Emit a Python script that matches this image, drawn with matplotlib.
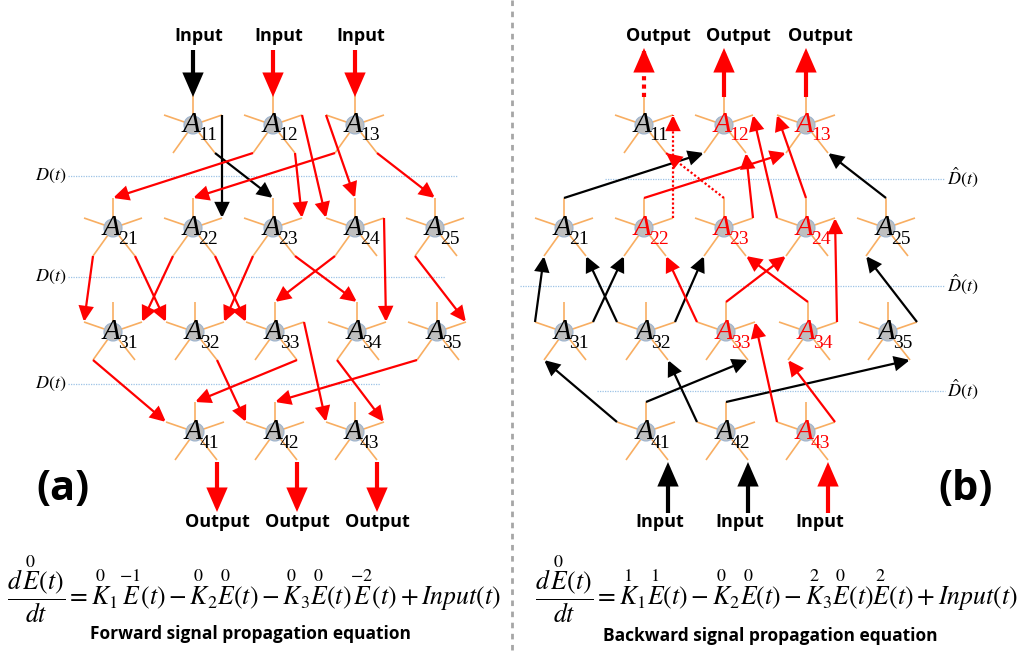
import matplotlib
matplotlib.use("Agg")
import matplotlib.pyplot as plt
from matplotlib.patches import Circle, FancyArrowPatch

plt.rcParams['mathtext.fontset'] = 'stix'
plt.rcParams['font.family'] = ['Open Sans', 'DejaVu Sans']

# ---- layout of the two networks (pixel grid) ----
ROW_Y = [125, 228, 332, 432]
ROW_X = [[193, 273, 355],
         [113, 193, 273, 355, 435],
         [113, 195, 275, 357, 437],
         [195, 275, 355]]
RIGHT_SHIFT = 451

# nodes drawn in red on the backward (right) panel
RED_RIGHT = ["12", "13", "22", "23", "24", "33", "34", "43"]

# forward links: (from row, col, port) -> (to row, col, port), colour
FWD_LINKS = [
    ((1, 1, 'RU'), (2, 2, 'RU'), 'k'),
    ((1, 1, 'RD'), (2, 3, 'U'), 'k'),
    ((1, 2, 'LD'), (2, 1, 'U'), 'r'),
    ((1, 3, 'LD'), (2, 2, 'U'), 'r'),
    ((1, 2, 'RD'), (2, 3, 'RU'), 'r'),
    ((1, 2, 'RU'), (2, 4, 'LU'), 'r'),
    ((1, 3, 'LU'), (2, 4, 'U'), 'r'),
    ((1, 3, 'RD'), (2, 5, 'U'), 'r'),
    ((2, 1, 'LD'), (3, 1, 'LU'), 'r'),
    ((2, 1, 'RD'), (3, 2, 'LU'), 'r'),
    ((2, 2, 'LD'), (3, 1, 'RU'), 'r'),
    ((2, 2, 'RD'), (3, 3, 'LU'), 'r'),
    ((2, 3, 'LD'), (3, 2, 'RU'), 'r'),
    ((2, 3, 'RD'), (3, 4, 'U'), 'r'),
    ((2, 4, 'LD'), (3, 3, 'U'), 'r'),
    ((2, 4, 'RU'), (3, 4, 'RU'), 'r'),
    ((2, 5, 'LD'), (3, 5, 'RU'), 'r'),
    ((3, 1, 'LD'), (4, 1, 'LU'), 'r'),
    ((3, 2, 'RD'), (4, 2, 'LU'), 'r'),
    ((3, 3, 'RD'), (4, 1, 'U'), 'r'),
    ((3, 3, 'RU'), (4, 3, 'LU'), 'r'),
    ((3, 4, 'LD'), (4, 3, 'RU'), 'r'),
    ((3, 5, 'LD'), (4, 2, 'U'), 'r'),
]

# backward links ('r:' = dotted red)
BWD_LINKS = [
    ((2, 1, 'U'), (1, 2, 'LD'), 'k'),
    ((2, 2, 'U'), (1, 3, 'LD'), 'r'),
    ((2, 2, 'RU'), (1, 1, 'RU'), 'r:'),
    ((2, 3, 'U'), (1, 1, 'RD'), 'r:'),
    ((2, 3, 'RU'), (1, 2, 'RD'), 'r'),
    ((2, 4, 'LU'), (1, 2, 'RU'), 'r'),
    ((2, 4, 'U'), (1, 3, 'LU'), 'r'),
    ((2, 5, 'U'), (1, 3, 'RD'), 'k'),
    ((3, 1, 'LU'), (2, 1, 'LD'), 'k'),
    ((3, 1, 'RU'), (2, 2, 'LD'), 'k'),
    ((3, 2, 'LU'), (2, 1, 'RD'), 'k'),
    ((3, 2, 'RU'), (2, 3, 'LD'), 'k'),
    ((3, 3, 'LU'), (2, 2, 'RD'), 'r'),
    ((3, 3, 'U'), (2, 4, 'LD'), 'r'),
    ((3, 4, 'U'), (2, 3, 'RD'), 'r'),
    ((3, 4, 'RU'), (2, 4, 'RU'), 'r'),
    ((3, 5, 'RU'), (2, 5, 'LD'), 'k'),
    ((4, 1, 'LU'), (3, 1, 'LD'), 'k'),
    ((4, 1, 'U'), (3, 3, 'RD'), 'k'),
    ((4, 2, 'LU'), (3, 2, 'RD'), 'k'),
    ((4, 2, 'U'), (3, 5, 'RD'), 'k'),
    ((4, 3, 'LU'), (3, 3, 'RU'), 'r'),
    ((4, 3, 'RU'), (3, 4, 'LD'), 'r'),
]

FWD_IN_COLORS = ['k', 'r', 'r']
BWD_OUT_COLORS = ['r:', 'r', 'r']
BWD_IN_COLORS = ['k', 'k', 'r']

FWD_EQ = (r'$\dfrac{d\,\overset{0}{E}(t)}{dt}=\overset{0}{K}_1\overset{-1}{E}(t)'
          r'-\overset{0}{K}_2\overset{0}{E}(t)-\overset{0}{K}_3\overset{0}{E}(t)'
          r'\overset{-2}{E}(t)+Input(t)$')
BWD_EQ = (r'$\dfrac{d\,\overset{0}{E}(t)}{dt}=\overset{1}{K}_1\overset{1}{E}(t)'
          r'-\overset{0}{K}_2\overset{0}{E}(t)-\overset{2}{K}_3\overset{0}{E}(t)'
          r'\overset{2}{E}(t)+Input(t)$')

PORTS = {'U': (0, -30), 'LU': (-29, -10), 'RU': (29, -10),
         'LD': (-20, 28), 'RD': (22, 28)}
COLS = {'k': 'black', 'r': '#FF0000'}
ORANGE = '#F8AE62'


fig = plt.figure(figsize=(10.27, 6.55), dpi=100)
ax = fig.add_axes([0, 0, 1, 1])
ax.set_xlim(0, 1027)
ax.set_ylim(655, 0)
ax.axis('off')


def node_xy(row, col, shift):
    return ROW_X[row - 1][col - 1] + shift, ROW_Y[row - 1]


def port(row, col, p, shift):
    cx, cy = node_xy(row, col, shift)
    dx, dy = PORTS[p]
    return cx + dx, cy + dy


def arrow(p0, p1, style, lw=1.6, thick=False):
    color = COLS[style[0]]
    dotted = style.endswith(':')
    if thick:
        astyle = '-|>,head_length=0.62,head_width=0.27'
        ms = 20
    else:
        astyle = '-|>,head_length=0.75,head_width=0.36'
        ms = 12
    if dotted:
        ax.plot([p0[0], p1[0]], [p0[1], p1[1]], color=color, lw=lw,
                ls=(0, (1, 1)), zorder=3)
        # solid head only
        fx = p0[0] + (p1[0] - p0[0]) * 0.85
        fy = p0[1] + (p1[1] - p0[1]) * 0.85
        p0 = (fx, fy)
    a = FancyArrowPatch(p0, p1, arrowstyle=astyle, mutation_scale=ms,
                        color=color, lw=lw, shrinkA=0, shrinkB=0, zorder=3,
                        joinstyle='miter', capstyle='butt')
    ax.add_patch(a)


def draw_node(row, col, shift, red=False):
    cx, cy = node_xy(row, col, shift)
    for p in PORTS:
        x1, y1 = port(row, col, p, shift)
        ax.plot([cx, x1], [cy, y1], color=ORANGE, lw=1.2, zorder=1,
                solid_capstyle='butt')
    ax.add_patch(Circle((cx, cy), 9, facecolor='#BFBFBF', edgecolor='#9DB4CF',
                        lw=0.8, zorder=2))
    c = '#FF0000' if red else 'black'
    ax.text(cx - 2, cy, 'A', family='Liberation Serif', style='italic',
            fontsize=21, color=c, ha='center', va='center', zorder=5)
    ax.text(cx + 5, cy + 11, f'{row}{col}', family='Liberation Serif',
            fontsize=14, color=c, ha='left', va='center', zorder=5)


# ---- divider ----
ax.plot([512, 512], [0, 655], color='#A6A6A6', lw=2, ls=(0, (2, 2)))

# ---- D(t) guide lines ----
for y, x1 in zip([176, 277, 384], [458, 445, 380]):
    ax.plot([68, x1], [y, y], color='#9DC3E6', lw=0.9, ls=(0, (1, 1)), zorder=0)
    ax.text(66, y, r'$D(t)$', fontsize=13, ha='right', va='center')
for y, x0 in zip([179, 286, 391], [605, 520, 597]):
    ax.plot([x0, 945], [y, y], color='#9DC3E6', lw=0.9, ls=(0, (1, 1)), zorder=0)
    ax.text(947, y - 2, r'$\hat{D}(t)$', fontsize=13, ha='left', va='center')

# ---- nodes ----
for r, xs in enumerate(ROW_X, start=1):
    for c in range(1, len(xs) + 1):
        draw_node(r, c, 0)
        draw_node(r, c, RIGHT_SHIFT, red=f'{r}{c}' in RED_RIGHT)

# ---- links ----
for a, b, s in FWD_LINKS:
    arrow(port(*a, 0), port(*b, 0), s)
for a, b, s in BWD_LINKS:
    arrow(port(*a, RIGHT_SHIFT), port(*b, RIGHT_SHIFT), s)

# ---- inputs / outputs ----
for i, s in enumerate(FWD_IN_COLORS):
    x, y = port(1, i + 1, 'U', 0)
    arrow((x, 50), (x, y + 2), s, lw=3, thick=True)
    ax.text(x + 6, 36, 'Input', fontsize=13, fontweight='bold',
            ha='center', va='center')
    x, y = port(4, i + 1, 'RD', 0)
    arrow((x, y + 2), (x, 512), 'r', lw=3, thick=True)
    ax.text(x, 522, 'Output', fontsize=13, fontweight='bold',
            ha='center', va='center')

for i, s in enumerate(BWD_OUT_COLORS):
    x, y = port(1, i + 1, 'U', RIGHT_SHIFT)
    arrow((x, y + 2), (x, 48), s, lw=3, thick=True)
    ax.text(x + 14, 36, 'Output', fontsize=13, fontweight='bold',
            ha='center', va='center')
for i, s in enumerate(BWD_IN_COLORS):
    x, y = port(4, i + 1, 'RD', RIGHT_SHIFT)
    arrow((x, 513), (x, y + 2), s, lw=3, thick=True)
    ax.text(x - 8, 522, 'Input', fontsize=13, fontweight='bold',
            ha='center', va='center')

# ---- panel tags ----
ax.text(63, 490, '(a)', fontsize=30, fontweight='bold', ha='center', va='center')
ax.text(966, 490, '(b)', fontsize=30, fontweight='bold', ha='center', va='center')

# ---- equations ----
ax.text(254, 589, FWD_EQ, fontsize=18.5, ha='center', va='center')
ax.text(250, 634, 'Forward signal propagation equation', fontsize=12.5,
        fontweight='bold', ha='center', va='center')
ax.text(776, 589, BWD_EQ, fontsize=18.5, ha='center', va='center')
ax.text(770, 636, 'Backward signal propagation equation', fontsize=12.5,
        fontweight='bold', ha='center', va='center')

fig.savefig('out.png', dpi=100)
